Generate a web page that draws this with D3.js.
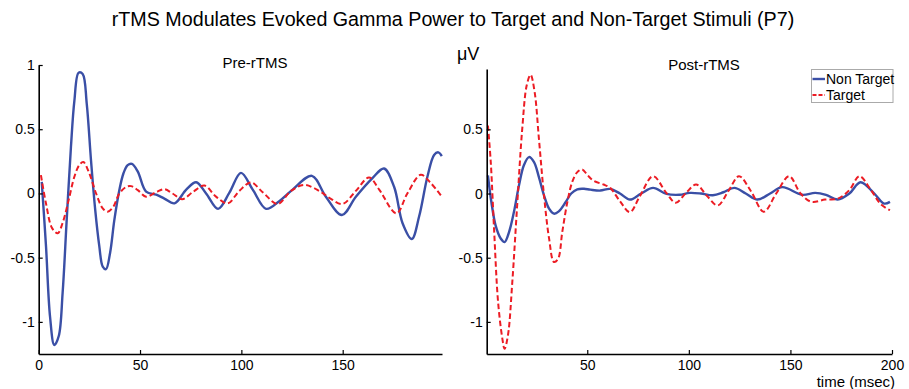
<!DOCTYPE html>
<html><head><meta charset="utf-8">
<script src="https://cdn.jsdelivr.net/npm/d3@7/dist/d3.min.js"></script>
<style>body{margin:0;background:#fff}svg{display:block}text{font-family:"Liberation Sans",Arial,sans-serif}</style>
</head><body><svg id="c" width="909" height="389"></svg>
<script>
// ---- data ----
const preNonTargetT = [1.5,3.6,5.6,7.7,9.9,11.8,13.8,15.9,17.6,19.7,21.7,23.7,25.8,27.9,29.9,31.6,33.2,35.2,37.3,39.8,41.8,43.9,46,48.9,53,58,62,67,72.8,77.7,82.6,88.5,94.1,99.8,105.6,112.2,118.7,125.3,134.8,141.7,149.6,156.5,164.7,170.4,175.4,179.5,184.1,187.7,191.8,195.1,197.2,198.9];
const preNonTargetV = [0.09,-0.41,-0.96,-1.18,-1.11,-0.775,-0.21,0.36,0.72,0.94,0.93,0.70,0.26,-0.13,-0.41,-0.57,-0.59,-0.465,-0.21,0.026,0.155,0.22,0.23,0.17,0.014,-0.01,-0.04,-0.077,0.03,0.087,0.0,-0.12,0.006,0.16,0.03,-0.12,-0.06,0.03,0.137,-0.025,-0.168,-0.025,0.12,0.194,0.05,-0.23,-0.355,-0.18,0.13,0.30,0.32,0.29];
const preTargetT = [1.1,3.6,6.6,9.4,11.8,14.8,17.6,20,22,25,28.3,31.6,34,36.8,39.8,43.1,45.6,48.9,53,58,62,66,70.8,76,81.8,87.5,93.3,99,104.8,110.5,117.9,124.5,131,138.4,144,149.9,156.5,163,168,176.5,181.9,188.5,193.5,198.9];
const preTargetV = [0.142,-0.078,-0.27,-0.31,-0.23,-0.05,0.13,0.22,0.245,0.155,0,-0.116,-0.142,-0.104,0,0.05,0.057,0.026,-0.025,0.01,0.033,0,-0.045,0.01,0.061,-0.025,-0.077,0.02,0.085,0.01,-0.082,0.02,0.066,0.02,-0.04,-0.082,0.02,0.124,0.03,-0.155,0.0,0.145,0.08,-0.025];
const postNonTargetT = [1.1,2.8,4.9,7.4,9.3,11.5,13.9,16.4,18.8,21.3,23.8,26.2,28.7,31.2,33.6,36,39.4,42.1,45.1,48.4,51.5,56.4,61.3,66.1,71,76.5,82.4,89,95.4,100.4,106,111.8,117,122.4,128,133.8,140,146,155.7,162.2,167.5,173.3,179,184.5,191.3,196.1,199];
const postNonTargetV = [0.142,-0.066,-0.25,-0.35,-0.378,-0.30,-0.144,0.064,0.22,0.284,0.245,0.128,-0.014,-0.118,-0.157,-0.139,-0.066,0,0.033,0.037,0.03,0.023,0.036,0.0,-0.047,0.0,0.044,-0.003,-0.01,0.005,0.0,-0.013,0.01,0.044,0.0,-0.047,0.0,0.05,-0.01,0.005,-0.01,-0.047,0.0,0.088,0.0,-0.078,-0.065];
const postTargetT = [1.1,2.5,4.1,6.1,8.2,9.3,11,13.1,15.6,18,20.2,22.1,24.1,26.2,28.7,31.2,33.6,35.6,37.7,40.2,42.6,45.1,47.5,50.3,53,58,61.3,66.1,71,75.9,82.4,89,93.5,98.5,103.6,109,114.2,119.5,124.7,130.5,136.9,143,149.4,155,160.4,167,173.3,179,184,189.5,194.6,199];
const postTargetV = [0.53,0.245,-0.27,-0.845,-1.13,-1.21,-1.10,-0.69,-0.066,0.505,0.843,0.925,0.79,0.427,-0.014,-0.35,-0.533,-0.51,-0.30,-0.066,0.09,0.167,0.188,0.14,0.10,0.07,0.044,-0.06,-0.145,-0.02,0.135,0.003,-0.072,0.003,0.07,-0.02,-0.093,0.02,0.135,0.02,-0.142,0.0,0.135,0.0,-0.065,-0.047,-0.04,0.027,0.135,0.03,-0.085,-0.13];
const seriesNames = ["Non Target","Target"];
const leftXTicks = [0,50,100,150];
const rightXTicks = [50,100,150,200];
const leftYTicks = [-1,-0.5,0,0.5,1];
const rightYTicks = [-1,-0.5,0,0.5];
const title = "rTMS Modulates Evoked Gamma Power to Target and Non-Target Stimuli (P7)";

// ---- drawing ----
const svg = d3.select("#c");
const BLUE = "#3a4fa6", RED = "#ec1c24";
const zip = (t,v) => t.map((d,i)=>[d,v[i]]);

function panel(cfg){
  const x = d3.scaleLinear().domain(cfg.xd).range(cfg.xr);
  const y = d3.scaleLinear().domain(cfg.yd).range(cfg.yr);
  const g = svg.append("g");
  const line = d3.line().x(d=>x(d[0])).y(d=>y(d[1])).curve(d3.curveCatmullRom.alpha(0.5));
  g.append("path").datum(zip(cfg.ntT,cfg.ntV)).attr("d",line)
    .attr("fill","none").attr("stroke",BLUE).attr("stroke-width",2.4);
  g.append("path").datum(zip(cfg.tT,cfg.tV)).attr("d",line)
    .attr("fill","none").attr("stroke",RED).attr("stroke-width",2).attr("stroke-dasharray","5.5,3");
  const fmt = d=>String(d);
  const ax = g.append("g").attr("transform",`translate(0,${cfg.yr[0]})`)
    .call(d3.axisBottom(x).tickValues(cfg.xt).tickFormat(fmt).tickSizeInner(-4).tickSizeOuter(0).tickPadding(6));
  const ay = g.append("g").attr("transform",`translate(${cfg.xr[0]},0)`)
    .call(d3.axisLeft(y).tickValues(cfg.yt).tickFormat(fmt).tickSizeInner(-4).tickSizeOuter(0).tickPadding(4));
  [ax,ay].forEach(a=>{
    a.select(".domain").attr("stroke","#000").attr("stroke-width",1.6);
    a.selectAll(".tick line").attr("stroke","#000").attr("stroke-width",1.2);
    a.selectAll(".tick text").attr("font-size",14).attr("fill","#000").style("font-family","'Liberation Sans',Arial,sans-serif");
  });
  return {x,y,g};
}

panel({xd:[0,199],xr:[38.7,442],yd:[-1.25,1],yr:[354,65],xt:leftXTicks,yt:leftYTicks,
  ntT:preNonTargetT,ntV:preNonTargetV,tT:preTargetT,tV:preTargetV});
panel({xd:[0.5,200],xr:[486.7,892],yd:[-1.25,0.97],yr:[354,69],xt:rightXTicks,yt:rightYTicks,
  ntT:postNonTargetT,ntV:postNonTargetV,tT:postTargetT,tV:postTargetV});

svg.append("text").attr("x",453).attr("y",26).attr("text-anchor","middle").attr("font-size",19.7).text(title);
svg.append("text").attr("x",255).attr("y",68).attr("text-anchor","middle").attr("font-size",15).text("Pre-rTMS");
svg.append("text").attr("x",704).attr("y",70).attr("text-anchor","middle").attr("font-size",15).text("Post-rTMS");
svg.append("text").attr("x",457).attr("y",60).attr("font-size",18).text("\u03BCV");
svg.append("text").attr("x",895).attr("y",387).attr("text-anchor","end").attr("font-size",15).text("time (msec)");

// legend
const lg = svg.append("g");
lg.append("rect").attr("x",811.5).attr("y",69.5).attr("width",81.5).attr("height",33).attr("fill","#fff").attr("stroke","#aaa").attr("stroke-width",1);
[[BLUE,null,2.4],[RED,"4,2",2]].forEach((s,i)=>{
  const yy = 79 + i*16;
  lg.append("line").attr("x1",812.5).attr("x2",825).attr("y1",yy).attr("y2",yy).attr("stroke",s[0]).attr("stroke-width",s[2]).attr("stroke-dasharray",s[1]);
  lg.append("text").attr("x",826).attr("y",yy+5).attr("font-size",14).text(seriesNames[i]);
});
</script></body></html>
